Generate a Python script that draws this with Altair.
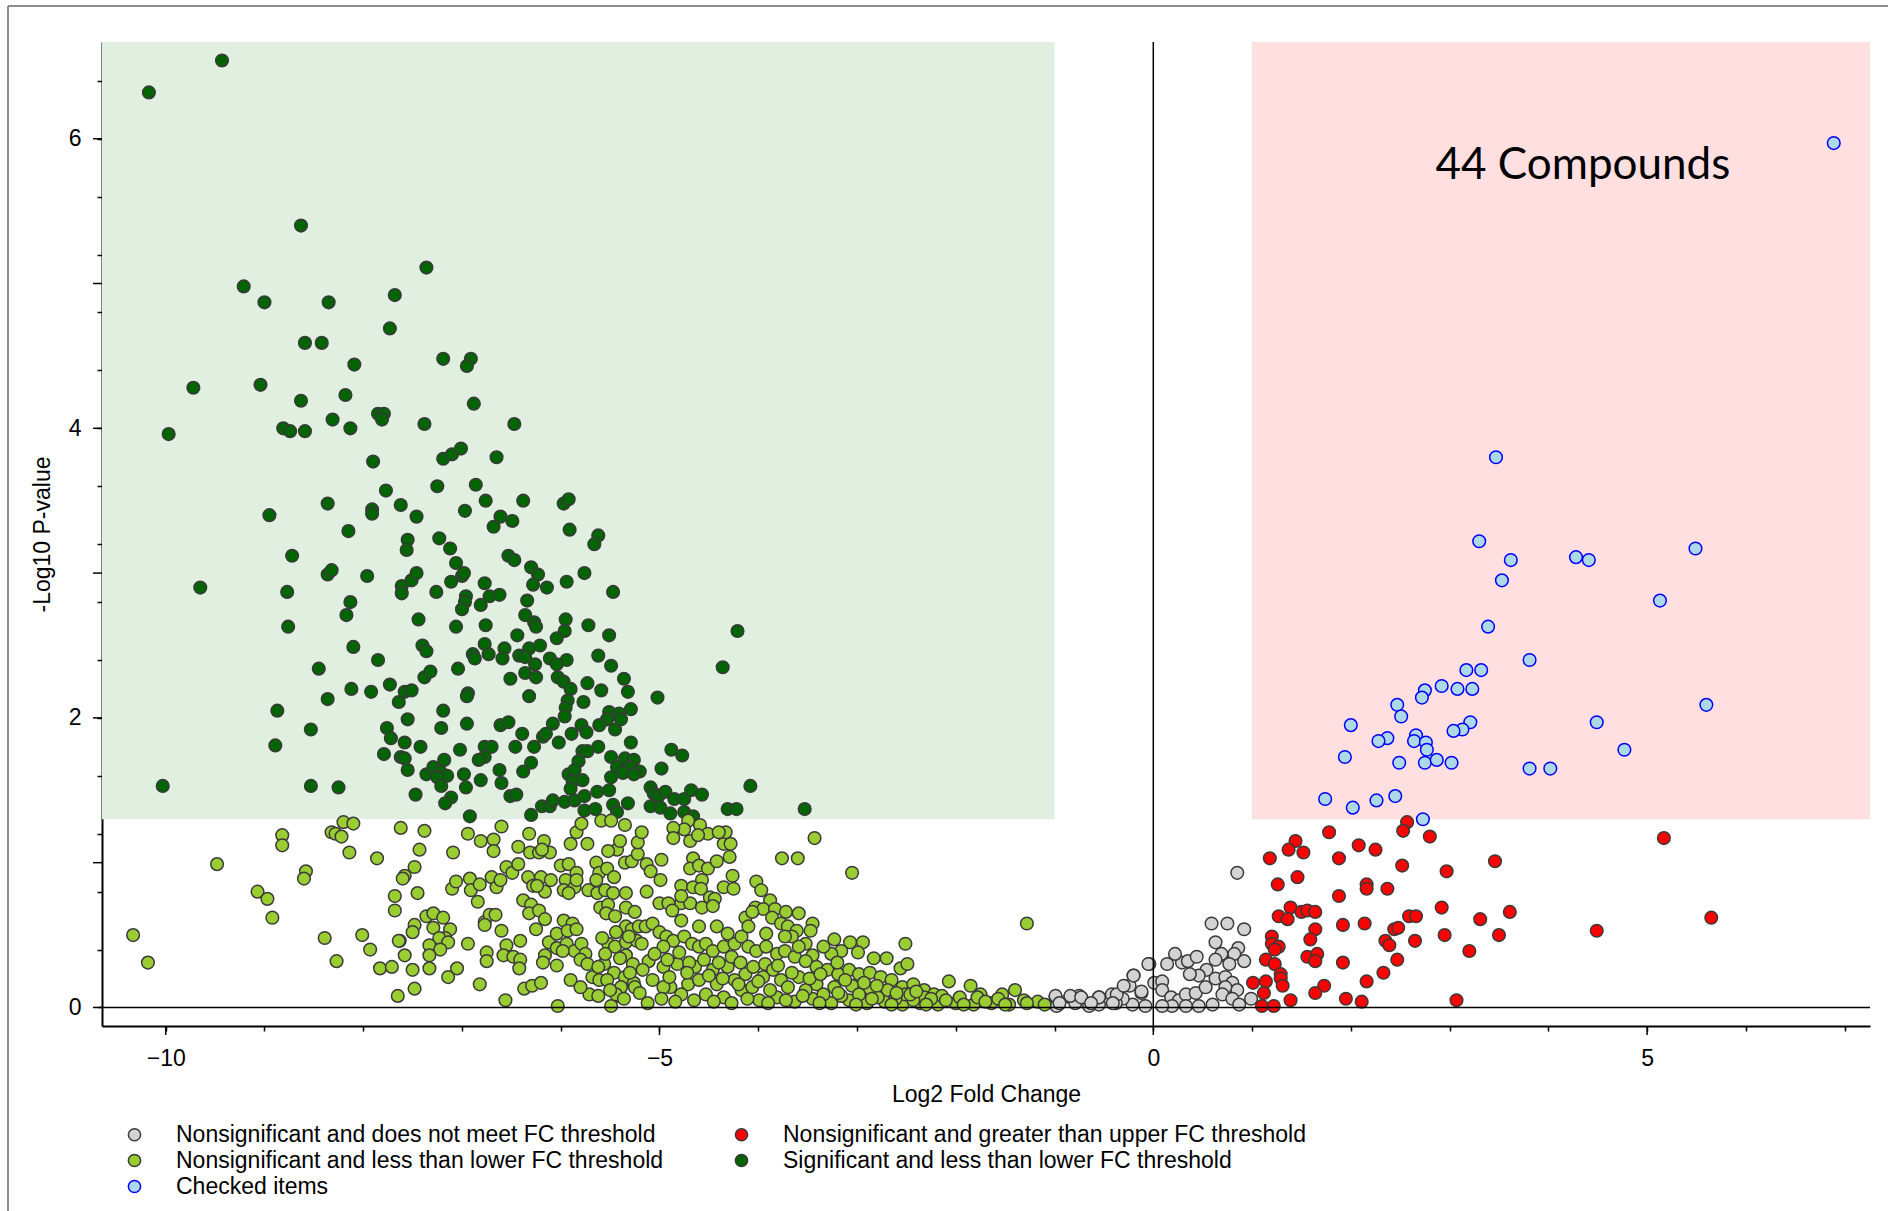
import altair as alt
import pandas as pd

# ---- volcano plot data: (log2 fold change, -log10 p-value) per compound ----

not_meet_fc = [
    (0.85, 0.93), (0.59, 0.58), (0.75, 0.58), (0.92, 0.54), (0.63, 0.45), (0.69, 0.36),
    (0.86, 0.41), (0.82, 0.37), (0.69, 0.37), (0.63, 0.33), (0.77, 0.30), (0.92, 0.32),
    (0.54, 0.26), (0.46, 0.22), (0.37, 0.23), (0.29, 0.31), (0.35, 0.32), (0.44, 0.35),
    (0.22, 0.37), (0.14, 0.30), (-0.04, 0.30), (-0.20, 0.22), (-0.24, 0.15), (-0.12, 0.10),
    (0.01, 0.17), (0.09, 0.18), (0.09, 0.12), (0.18, 0.07), (0.26, 0.05), (0.33, 0.09),
    (0.43, 0.10), (0.53, 0.14), (0.63, 0.20), (0.73, 0.21), (0.80, 0.17), (0.85, 0.12),
    (0.73, 0.14), (0.70, 0.09), (0.80, 0.06), (0.87, 0.02), (0.99, 0.06), (0.60, 0.02),
    (0.46, 0.01), (0.33, 0.01), (0.19, 0.01), (0.09, 0.01), (-0.08, 0.01), (-0.21, 0.02),
    (-0.31, 0.06), (-0.42, 0.09), (-0.38, 0.03), (-0.55, 0.02), (-0.55, 0.07), (-0.65, 0.01),
    (-0.75, 0.08), (-0.84, 0.07), (-0.79, 0.03), (-0.96, 0.02), (-0.99, 0.07), (-0.98, 0.01),
    (-0.99, 0.08), (-0.84, 0.08), (-0.73, 0.07), (-0.55, 0.07), (-0.37, 0.09), (-0.20, 0.22),
    (-0.05, 0.30), (-0.12, 0.11), (-0.30, 0.15), (-0.95, 0.03), (-0.63, 0.03), (-0.41, 0.03),
]

sig_lower = [
    (-10.17, 6.32), (-9.43, 6.54), (-8.63, 5.40), (-7.36, 5.11), (-9.21, 4.98), (-9.00, 4.87),
    (-8.35, 4.87), (-7.68, 4.92), (-7.73, 4.69), (-8.59, 4.59), (-8.42, 4.59), (-8.09, 4.44),
    (-7.19, 4.48), (-6.91, 4.48), (-6.95, 4.43), (-9.72, 4.28), (-9.04, 4.30), (-8.63, 4.19),
    (-8.18, 4.23), (-6.88, 4.17), (-9.97, 3.96), (-8.81, 4.00), (-8.74, 3.98), (-8.59, 3.98),
    (-8.31, 4.06), (-8.13, 4.00), (-7.85, 4.10), (-7.79, 4.10), (-7.81, 4.06), (-7.38, 4.03),
    (-6.47, 4.03), (-7.90, 3.77), (-7.19, 3.79), (-7.10, 3.82), (-7.01, 3.86), (-6.65, 3.80),
    (-7.77, 3.57), (-7.25, 3.60), (-6.86, 3.61), (-9.65, 2.90), (-10.03, 1.53),
    (-8.36, 3.48), (-7.91, 3.44), (-7.91, 3.41), (-7.62, 3.47), (-7.46, 3.39), (-6.97, 3.43),
    (-6.76, 3.50), (-6.38, 3.50), (-5.97, 3.48), (-5.92, 3.51), (-8.95, 3.40), (-8.15, 3.29),
    (-7.55, 3.23), (-7.56, 3.16), (-7.23, 3.24), (-7.12, 3.17), (-6.61, 3.39), (-6.49, 3.36),
    (-6.68, 3.32), (-5.91, 3.30), (-5.62, 3.26), (-5.66, 3.20), (-8.72, 3.12), (-8.36, 2.99),
    (-8.32, 3.02), (-7.96, 2.98), (-7.61, 2.91), (-7.61, 2.86), (-7.51, 2.95), (-7.46, 3.00),
    (-7.26, 2.87), (-7.11, 2.94), (-7.06, 3.07), (-7.00, 2.98), (-6.98, 3.00), (-6.77, 2.93),
    (-6.53, 3.12), (-6.47, 3.09), (-6.30, 3.04), (-6.23, 2.99), (-6.28, 2.92), (-6.14, 2.90),
    (-5.94, 2.94), (-5.76, 3.00), (-5.47, 2.87), (-8.77, 2.87), (-8.13, 2.80), (-8.17, 2.71),
    (-8.76, 2.63), (-7.44, 2.68), (-7.06, 2.63), (-6.96, 2.84), (-6.97, 2.80), (-7.00, 2.75),
    (-6.81, 2.78), (-6.72, 2.84), (-6.62, 2.85), (-6.76, 2.64), (-6.34, 2.81), (-6.36, 2.71),
    (-6.27, 2.66), (-6.25, 2.63), (-5.95, 2.68), (-5.96, 2.60), (-6.04, 2.55), (-5.72, 2.64),
    (-5.51, 2.57), (-4.21, 2.60), (-4.36, 2.35), (-8.10, 2.49), (-7.40, 2.50), (-7.36, 2.46),
    (-7.85, 2.40), (-8.45, 2.34), (-6.77, 2.51), (-6.73, 2.44), (-6.89, 2.44), (-6.87, 2.41),
    (-6.57, 2.48), (-6.59, 2.41), (-6.44, 2.57), (-6.32, 2.48), (-6.21, 2.50), (-6.42, 2.43),
    (-6.36, 2.42), (-6.11, 2.41), (-5.94, 2.40), (-6.04, 2.37), (-6.26, 2.37), (-6.36, 2.31),
    (-6.25, 2.28), (-5.62, 2.43), (-5.49, 2.36), (-5.36, 2.27), (-5.73, 2.24), (-5.59, 2.19),
    (-5.32, 2.18), (-5.02, 2.14), (-6.03, 2.28), (-5.97, 2.25), (-5.90, 2.20), (-8.12, 2.20),
    (-7.92, 2.18), (-7.73, 2.23), (-8.36, 2.13), (-7.58, 2.18), (-7.51, 2.19), (-7.64, 2.11),
    (-7.38, 2.28), (-7.32, 2.32), (-7.04, 2.34), (-6.94, 2.17), (-6.95, 2.15), (-6.51, 2.27),
    (-6.32, 2.15), (-5.77, 2.11), (-5.93, 2.12), (-5.95, 2.07), (-5.96, 2.01), (-5.29, 2.06),
    (-5.51, 2.04), (-5.41, 2.03), (-5.39, 1.99), (-5.53, 1.99), (-8.87, 2.05), (-8.53, 1.92),
    (-8.89, 1.81), (-7.55, 1.99), (-7.76, 1.93), (-7.72, 1.86), (-7.19, 2.05), (-7.21, 1.93),
    (-6.95, 1.96), (-6.61, 1.95), (-6.53, 1.97), (-6.39, 1.89), (-6.08, 1.96), (-6.18, 1.87),
    (-6.15, 1.89), (-5.89, 1.89), (-5.79, 1.95), (-5.74, 1.90), (-5.61, 1.95), (-5.45, 1.92),
    (-7.58, 1.83), (-7.42, 1.80), (-7.79, 1.75), (-7.62, 1.73), (-7.58, 1.72), (-7.02, 1.78),
    (-6.77, 1.80), (-6.70, 1.80), (-6.77, 1.73), (-6.83, 1.71), (-6.46, 1.80), (-6.27, 1.80),
    (-6.02, 1.83), (-5.62, 1.80), (-5.29, 1.83), (-5.78, 1.77), (-5.73, 1.77), (-5.82, 1.70),
    (-5.49, 1.73), (-5.35, 1.72), (-5.43, 1.66), (-5.26, 1.71), (-5.30, 1.66), (-5.20, 1.63),
    (-5.37, 1.62), (-5.26, 1.61), (-4.88, 1.78), (-4.77, 1.74), (-4.98, 1.65), (-4.08, 1.53),
    (-7.55, 1.64), (-7.36, 1.61), (-7.29, 1.66), (-7.22, 1.63), (-7.18, 1.71), (-7.15, 1.60),
    (-7.25, 1.59), (-7.21, 1.53), (-6.98, 1.61), (-6.96, 1.52), (-6.81, 1.57), (-6.62, 1.64),
    (-6.60, 1.55), (-6.30, 1.69), (-6.38, 1.63), (-5.92, 1.61), (-5.86, 1.64), (-5.88, 1.56),
    (-5.78, 1.57), (-5.90, 1.51), (-5.49, 1.59), (-8.53, 1.53), (-8.25, 1.52), (-7.47, 1.47),
    (-7.11, 1.45), (-7.17, 1.41), (-6.51, 1.46), (-6.45, 1.47), (-6.92, 1.32), (-6.30, 1.33),
    (-6.19, 1.39), (-6.11, 1.39), (-6.08, 1.43), (-5.96, 1.42), (-5.86, 1.43), (-5.76, 1.46),
    (-5.76, 1.36), (-5.65, 1.37), (-5.63, 1.49), (-5.51, 1.50), (-5.47, 1.40), (-5.43, 1.35),
    (-5.32, 1.41), (-5.09, 1.52), (-5.06, 1.48), (-5.01, 1.46), (-4.94, 1.49), (-4.85, 1.44),
    (-4.75, 1.44), (-4.68, 1.50), (-4.57, 1.47), (-5.09, 1.39), (-4.99, 1.38), (-4.89, 1.34),
    (-4.75, 1.35), (-4.66, 1.32), (-4.31, 1.37), (-4.22, 1.37), (-3.53, 1.37),
]

nonsig_lower = [
    (-10.33, 0.50), (-10.18, 0.31), (-9.48, 0.99), (-8.82, 1.19), (-8.82, 1.12), (-9.07, 0.80),
    (-8.97, 0.75), (-8.92, 0.62), (-8.58, 0.94), (-8.60, 0.89), (-8.20, 1.28), (-8.10, 1.27),
    (-8.32, 1.21), (-8.28, 1.20), (-8.22, 1.18), (-8.14, 1.07), (-8.39, 0.48), (-8.27, 0.32),
    (-8.01, 0.50), (-7.93, 0.40), (-7.86, 1.03), (-7.83, 0.27), (-7.71, 0.28), (-7.65, 0.08),
    (-7.62, 1.24), (-7.38, 1.22), (-7.43, 1.09), (-7.48, 0.97), (-7.58, 0.91), (-7.60, 0.89),
    (-7.68, 0.77), (-7.68, 0.67), (-7.45, 0.79), (-7.48, 0.57), (-7.50, 0.52), (-7.63, 0.46),
    (-7.64, 0.46), (-7.58, 0.36), (-7.50, 0.26), (-7.48, 0.13), (-7.36, 0.63), (-7.29, 0.65),
    (-7.19, 0.62), (-7.29, 0.55), (-7.12, 0.54), (-7.17, 0.48), (-7.23, 0.48), (-7.14, 0.45),
    (-7.33, 0.43), (-7.22, 0.40), (-7.33, 0.36), (-7.33, 0.27), (-7.14, 0.21), (-7.05, 0.27),
    (-7.09, 1.07), (-6.94, 1.20), (-6.81, 1.15), (-6.68, 1.16), (-6.68, 1.08), (-6.60, 1.25),
    (-6.43, 1.11), (-6.32, 1.20), (-6.17, 1.15), (-7.10, 0.82), (-7.06, 0.87), (-6.92, 0.89),
    (-6.91, 0.81), (-6.82, 0.85), (-6.84, 0.73), (-6.70, 0.90), (-6.65, 0.83), (-6.61, 0.88),
    (-6.55, 0.97), (-6.49, 0.93), (-6.43, 0.99), (-6.77, 0.59), (-6.72, 0.64), (-6.66, 0.64),
    (-6.77, 0.57), (-6.94, 0.44), (-6.75, 0.38), (-6.75, 0.32), (-6.60, 0.53), (-6.55, 0.43),
    (-6.58, 0.36), (-6.48, 0.35), (-6.41, 0.33), (-6.41, 0.46), (-6.42, 0.27), (-6.82, 0.16),
    (-6.56, 0.05), (-6.37, 0.13), (-6.29, 0.15), (-6.20, 0.17), (-6.03, 0.01), (-6.33, 0.90),
    (-6.28, 0.84), (-6.20, 0.90), (-6.16, 0.80), (-6.10, 0.88), (-6.24, 0.84), (-6.38, 0.74),
    (-6.30, 0.71), (-6.32, 0.65), (-6.22, 0.67), (-6.16, 0.61), (-6.25, 0.54), (-6.31, 1.07),
    (-6.22, 1.07), (-6.11, 1.07), (-6.19, 1.09), (-6.12, 0.45), (-6.04, 0.41), (-6.16, 0.36),
    (-6.18, 0.31), (-6.04, 0.51), (-6.00, 0.98), (-5.92, 0.99), (-5.84, 0.93), (-5.95, 0.88),
    (-5.86, 0.83), (-5.97, 0.81), (-5.92, 0.79), (-5.84, 0.88), (-5.84, 1.21), (-5.90, 1.13),
    (-5.79, 1.27), (-5.73, 1.13), (-5.97, 0.60), (-5.88, 0.58), (-5.93, 0.53), (-5.84, 0.54),
    (-5.94, 0.44), (-5.86, 0.39), (-5.79, 0.44), (-5.75, 0.37), (-5.80, 0.33), (-5.73, 0.30),
    (-5.71, 0.09), (-5.62, 0.08), (-5.49, 0.01), (-5.41, 0.08), (-5.68, 0.21), (-5.61, 0.19),
    (-5.56, 0.30), (-5.46, 0.24), (-5.35, 0.21), (-5.26, 0.17), (-5.64, 1.00), (-5.61, 0.93),
    (-5.64, 0.88), (-5.72, 0.81), (-5.63, 0.79), (-5.55, 0.81), (-5.47, 0.79), (-5.34, 0.79),
    (-5.60, 0.69), (-5.52, 0.71), (-5.54, 0.65), (-5.45, 0.63), (-5.34, 0.69), (-5.25, 0.66),
    (-5.52, 0.44), (-5.45, 0.42), (-5.55, 0.37), (-5.59, 1.29), (-5.49, 1.29), (-5.43, 1.09),
    (-5.35, 1.26), (-5.40, 1.15), (-5.52, 1.08), (-5.53, 0.96), (-5.46, 0.90), (-5.35, 1.00),
    (-5.28, 1.01), (-5.22, 1.06), (-5.22, 1.14), (-5.34, 0.56), (-5.28, 0.54), (-5.21, 0.56),
    (-5.34, 0.45), (-5.23, 0.46), (-5.34, 0.36), (-5.27, 0.30), (-6.04, 0.29), (-5.98, 0.39),
    (-5.53, 0.19), (-5.39, 0.14), (-5.44, 0.09), (-5.30, 0.24), (-5.25, 0.14), (-5.90, 0.19),
    (-5.62, 0.28),
    (-4.71, 1.29), (-4.75, 1.23), (-4.59, 1.26), (-4.51, 1.20), (-4.86, 1.24), (-4.86, 1.17),
    (-5.18, 1.21), (-5.13, 0.99), (-4.98, 1.02), (-5.09, 0.94), (-4.99, 0.88), (-5.13, 0.80),
    (-5.00, 0.72), (-4.91, 0.72), (-4.78, 0.72), (-4.69, 0.72), (-4.87, 0.67), (-4.78, 0.84),
    (-4.78, 0.77), (-4.66, 1.03), (-4.69, 0.96), (-4.60, 0.98), (-4.51, 0.96), (-4.42, 1.01),
    (-4.29, 1.04), (-4.35, 1.13), (-4.28, 1.13), (-4.33, 1.21), (-4.40, 1.21), (-4.69, 1.15),
    (-4.61, 1.19), (-4.26, 0.91), (-4.35, 0.83), (-4.25, 0.82), (-4.57, 0.88), (-4.66, 0.83),
    (-4.58, 0.82), (-4.49, 0.76), (-4.44, 0.75), (-4.57, 0.69), (-4.46, 0.70), (-4.02, 0.87),
    (-3.97, 0.81), (-3.88, 0.74), (-4.03, 0.69), (-3.95, 0.68), (-3.83, 0.68), (-4.13, 0.62),
    (-4.06, 0.66), (-3.86, 0.62), (-3.72, 0.66), (-3.59, 0.65), (-3.77, 0.58), (-3.70, 0.56),
    (-3.61, 0.53), (-3.45, 0.58), (-3.47, 0.53), (-3.76, 1.03), (-3.60, 1.03), (-3.43, 1.17),
    (-3.05, 0.93), (-1.28, 0.58), (-3.23, 0.47), (-3.07, 0.45), (-2.94, 0.45), (-2.99, 0.38),
    (-3.16, 0.39), (-3.26, 0.37), (-3.45, 0.36), (-2.51, 0.44), (-2.83, 0.34), (-2.70, 0.34),
    (-2.56, 0.27), (-2.49, 0.30),
    (-5.14, 0.56), (-5.07, 0.58), (-5.00, 0.52), (-4.93, 0.49), (-4.86, 0.46), (-4.75, 0.49),
    (-4.67, 0.44), (-4.60, 0.42), (-4.53, 0.44), (-4.46, 0.39), (-4.35, 0.42), (-4.24, 0.44),
    (-4.17, 0.49), (-4.10, 0.42), (-4.02, 0.39), (-3.92, 0.42), (-3.81, 0.37), (-3.73, 0.39),
    (-3.63, 0.35), (-3.52, 0.32), (-3.41, 0.28), (-3.30, 0.26), (-3.19, 0.23), (-3.08, 0.26),
    (-2.98, 0.23), (-2.87, 0.24), (-2.76, 0.21), (-2.65, 0.19), (-2.54, 0.14), (-2.43, 0.16),
    (-2.32, 0.12), (-2.22, 0.09), (-2.07, 0.18), (-1.85, 0.15), (-1.75, 0.09), (-1.53, 0.09),
    (-1.40, 0.12), (-1.31, 0.05), (-1.17, 0.04),
    (-5.07, 0.19), (-4.89, 0.14), (-4.71, 0.16), (-4.53, 0.09), (-4.35, 0.07), (-4.17, 0.12),
    (-3.99, 0.05), (-3.81, 0.07), (-3.63, 0.04), (-3.45, 0.06), (-3.26, 0.03), (-3.08, 0.05),
    (-2.90, 0.03), (-2.72, 0.04), (-2.54, 0.02), (-2.36, 0.03), (-2.18, 0.02), (-2.00, 0.03),
    (-1.82, 0.02), (-1.64, 0.03), (-1.46, 0.02), (-1.28, 0.03), (-1.10, 0.02),
    (-5.11, 0.32), (-4.96, 0.28), (-4.82, 0.30), (-4.64, 0.28), (-4.46, 0.26), (-4.31, 0.28),
    (-4.13, 0.23), (-3.95, 0.21), (-3.77, 0.19), (-3.59, 0.21), (-3.41, 0.16), (-3.23, 0.14),
    (-3.05, 0.15), (-2.87, 0.13), (-2.69, 0.12), (-2.51, 0.09), (-2.32, 0.07), (-2.14, 0.08),
    (-1.96, 0.07), (-1.78, 0.07), (-1.57, 0.06), (-4.96, 0.14), (-4.78, 0.09), (-4.60, 0.19),
    (-4.42, 0.16), (-4.24, 0.19), (-4.06, 0.14), (-3.88, 0.12), (-3.70, 0.14), (-3.52, 0.12),
    (-3.34, 0.09), (-3.16, 0.08), (-2.98, 0.09), (-2.79, 0.07), (-2.61, 0.06), (-2.43, 0.05),
    (-2.25, 0.06),
    (-4.96, 0.42), (-4.78, 0.60), (-4.42, 0.56), (-4.60, 0.56), (-4.31, 0.51), (-4.10, 0.56),
    (-3.92, 0.51), (-3.66, 0.49), (-3.52, 0.44), (-3.34, 0.42), (-3.59, 0.42), (-3.73, 0.49),
    (-5.58, 0.48), (-5.44, 0.52), (-5.31, 0.49), (-5.18, 0.44), (-5.05, 0.37), (-4.92, 0.33),
    (-4.80, 0.38), (-4.70, 0.31), (-4.55, 0.33), (-4.40, 0.31), (-4.27, 0.35), (-4.18, 0.31),
    (-4.05, 0.28), (-3.93, 0.30), (-3.85, 0.26), (-5.50, 0.12), (-5.36, 0.06), (-5.20, 0.10),
    (-5.12, 0.03), (-4.98, 0.06), (-4.84, 0.04), (-4.65, 0.05), (-4.45, 0.04), (-4.27, 0.03),
    (-4.11, 0.06), (-3.90, 0.03), (-3.72, 0.05), (-3.55, 0.08), (-3.38, 0.03), (-3.19, 0.10),
    (-3.01, 0.02), (-2.85, 0.06), (-2.65, 0.02), (-2.46, 0.09), (-2.30, 0.02), (-2.10, 0.05),
    (-1.92, 0.02), (-1.70, 0.04), (-1.50, 0.02), (-5.40, 0.34), (-5.17, 0.26), (-4.90, 0.21),
    (-4.72, 0.24), (-4.50, 0.22), (-4.36, 0.20), (-4.20, 0.16), (-4.00, 0.18), (-3.80, 0.29),
    (-3.66, 0.24), (-3.48, 0.20), (-3.37, 0.23), (-3.20, 0.31), (-3.12, 0.19), (-2.93, 0.17),
    (-2.80, 0.15), (-2.60, 0.10), (-2.40, 0.11), (-5.80, 0.14),
]

nonsig_upper = [
    (1.78, 1.21), (2.57, 1.28), (2.53, 1.22), (2.80, 1.18), (1.44, 1.15), (1.37, 1.09),
    (1.52, 1.07), (1.18, 1.03), (1.88, 1.03), (2.08, 1.12), (2.25, 1.09), (2.52, 0.98),
    (2.97, 0.94), (3.46, 1.01), (1.26, 0.85), (1.46, 0.90), (2.16, 0.85), (2.16, 0.82),
    (2.37, 0.82), (1.88, 0.77), (1.39, 0.69), (1.27, 0.63), (1.36, 0.61), (1.50, 0.66),
    (1.56, 0.67), (1.64, 0.66), (1.92, 0.57), (2.14, 0.58), (2.59, 0.63), (2.66, 0.63),
    (2.92, 0.69), (3.31, 0.61), (2.95, 0.50), (3.50, 0.50), (1.64, 0.54), (1.59, 0.47),
    (1.20, 0.49), (1.20, 0.44), (1.27, 0.42), (1.23, 0.40), (1.14, 0.33), (1.23, 0.30),
    (1.29, 0.23), (1.29, 0.20), (1.31, 0.15), (1.14, 0.18), (1.12, 0.10), (1.01, 0.17),
    (1.10, 0.01), (1.22, 0.01), (1.39, 0.05), (1.56, 0.35), (1.66, 0.37), (1.64, 0.32),
    (1.73, 0.15), (1.64, 0.10), (1.92, 0.31), (1.95, 0.06), (2.11, 0.04), (2.16, 0.18),
    (2.33, 0.24), (2.35, 0.46), (2.39, 0.43), (2.44, 0.54), (2.48, 0.55), (2.47, 0.33),
    (2.65, 0.46), (3.20, 0.39), (3.07, 0.05), (3.61, 0.66), (4.49, 0.53), (5.17, 1.17),
    (5.65, 0.62),
]

checked = [
    (3.47, 3.80), (3.30, 3.22), (3.62, 3.09), (3.53, 2.95), (4.28, 3.11), (4.41, 3.09),
    (5.49, 3.17), (5.13, 2.81), (3.39, 2.63), (3.81, 2.40), (3.17, 2.33), (3.32, 2.33),
    (2.92, 2.22), (3.08, 2.20), (3.23, 2.20), (2.75, 2.19), (2.72, 2.14), (2.47, 2.09),
    (2.51, 2.01), (2.00, 1.95), (5.60, 2.09), (4.49, 1.97), (3.21, 1.97), (3.13, 1.92),
    (3.04, 1.91), (2.66, 1.88), (2.64, 1.84), (2.76, 1.83), (2.77, 1.78), (2.37, 1.86),
    (2.28, 1.84), (1.94, 1.73), (2.49, 1.69), (2.75, 1.69), (2.87, 1.71), (3.02, 1.69),
    (3.81, 1.65), (4.02, 1.65), (4.77, 1.78), (1.74, 1.44), (2.02, 1.38), (2.26, 1.43),
    (2.45, 1.46), (2.73, 1.30), (6.89, 5.97),
]

groups = [
    ("Nonsignificant and does not meet FC threshold", not_meet_fc),
    ("Significant and less than lower FC threshold", sig_lower),
    ("Nonsignificant and less than lower FC threshold", nonsig_lower),
    ("Nonsignificant and greater than upper FC threshold", nonsig_upper),
    ("Checked items", checked),
]

# legend entries, listed row by row across two columns
legend_order = [
    "Nonsignificant and does not meet FC threshold",
    "Nonsignificant and greater than upper FC threshold",
    "Nonsignificant and less than lower FC threshold",
    "Significant and less than lower FC threshold",
    "Checked items",
]
fill_colors = ["#D3D3D3", "#FF0000", "#9ACD32", "#006400", "#ADD8E6"]
stroke_colors = ["#3A3A3A", "#3A3A3A", "#3A3A3A", "#3A3A3A", "#0000FF"]

# thresholds
lower_fc = -1.0
upper_fc = 1.0
p_cut = 1.3

x_domain = [-10.645, 7.257]
y_domain = [-0.128, 6.668]
x_tick_values = [-10, -9, -8, -7, -6, -5, -4, -3, -2, -1, 0, 1, 2, 3, 4, 5, 6, 7]
x_major_ticks = [-10, -5, 0, 5]
y_tick_values = [0, 0.2, 0.4, 0.6, 0.8, 1, 1.2, 1.4, 1.6, 1.8, 2, 2.2, 2.4, 2.6, 2.8, 3,
                 3.2, 3.4, 3.6, 3.8, 4, 4.2, 4.4, 4.6, 4.8, 5, 5.2, 5.4, 5.6, 5.8, 6, 6.2,
                 6.4, 6.6]
y_major_ticks = [0, 1, 2, 3, 4, 5, 6]

rows = []
for name, pts in groups:
    for fc, p in pts:
        rows.append({"fc": fc, "p": p, "group": name})
df = pd.DataFrame(rows)

W, H = 1768, 984
FONT = "Liberation Sans"
FS = 23

xs = alt.Scale(domain=x_domain, nice=False, zero=False)
ys = alt.Scale(domain=y_domain, nice=False, zero=False)

x_axis = alt.Axis(
    values=x_tick_values,
    labelExpr="datum.value % 5 == 0 ? format(datum.value, 'd') : ''",
    grid=False, domainColor="black", domainWidth=2, tickColor="black", tickWidth=1.5,
    tickSize=5, labelFont=FONT, labelFontSize=FS, labelColor="black", labelPadding=16,
    title="Log2 Fold Change", titleFont=FONT, titleFontSize=FS, titleFontWeight="normal",
    titleColor="black", titlePadding=13, labelOverlap=False,
)
y_axis = alt.Axis(
    values=y_tick_values,
    labelExpr="abs(datum.value - round(datum.value)) < 0.001 ? format(datum.value, 'd') : ''",
    grid=False, domainColor="black", domainWidth=2, tickColor="black", tickWidth=1.5,
    tickSize=5, labelFont=FONT, labelFontSize=FS, labelColor="black", labelPadding=16,
    title="-Log10 P-value", titleFont=FONT, titleFontSize=FS, titleFontWeight="normal",
    titleColor="black", titlePadding=14, labelOverlap=False,
)

# shaded significance regions
green_zone = alt.Chart().mark_rect(color="#E1EFE1").encode(
    x=alt.X(datum=lower_fc, scale=xs, axis=x_axis), x2=alt.value(0),
    y=alt.Y(datum=p_cut, scale=ys, axis=y_axis), y2=alt.value(0),
)
red_zone = alt.Chart().mark_rect(color="#FFDFE0").encode(
    x=alt.X(datum=upper_fc, scale=xs), x2=alt.value(W),
    y=alt.Y(datum=p_cut, scale=ys), y2=alt.value(0),
)

points = alt.Chart(df).mark_point(
    shape="circle", filled=True, opacity=1, strokeWidth=1.5, size=160
).encode(
    x=alt.X("fc:Q", scale=xs),
    y=alt.Y("p:Q", scale=ys),
    fill=alt.Fill("group:N", scale=alt.Scale(domain=legend_order, range=fill_colors),
                  legend=alt.Legend(title=None)),
    stroke=alt.Stroke("group:N", scale=alt.Scale(domain=legend_order, range=stroke_colors),
                      legend=alt.Legend(title=None)),
    order=alt.Order("idx:Q"),
).transform_window(idx="row_number()")

zero_v = alt.Chart().mark_rule(color="black", strokeWidth=1.5).encode(
    x=alt.X(datum=0, scale=xs), y=alt.value(0), y2=alt.value(H)
)
zero_h = alt.Chart().mark_rule(color="black", strokeWidth=1.5).encode(
    y=alt.Y(datum=0, scale=ys), x=alt.value(0), x2=alt.value(W)
)

# longer major ticks
x_major = alt.Chart(pd.DataFrame({"t": x_major_ticks})).mark_rule(
    color="black", strokeWidth=1.5
).encode(x=alt.X("t:Q", scale=xs), y=alt.value(H), y2=alt.value(H + 9))
y_major = alt.Chart(pd.DataFrame({"t": y_major_ticks})).mark_rule(
    color="black", strokeWidth=1.5
).encode(y=alt.Y("t:Q", scale=ys), x=alt.value(-9), x2=alt.value(0))

note = alt.Chart().mark_text(
    text="44 Compounds", font="Lato", fontSize=44, color="black",
    align="center", baseline="middle"
).encode(x=alt.X(datum=4.35, scale=xs), y=alt.Y(datum=5.81, scale=ys))

# outer frame (left and top edges)
frame_left = alt.Chart().mark_rule(color="#8C8C8C", strokeWidth=2).encode(
    x=alt.value(-94), y=alt.value(-36), y2=alt.value(1211)
)
frame_top = alt.Chart().mark_rule(color="#8C8C8C", strokeWidth=2).encode(
    y=alt.value(-36), x=alt.value(-94), x2=alt.value(1888)
)

chart = alt.layer(
    green_zone, red_zone, points, zero_v, zero_h, x_major, y_major, note,
    frame_left, frame_top,
).properties(
    width=W, height=H,
    autosize=alt.AutoSizeParams(type="none"),
    padding={"left": 102, "top": 42, "right": 18, "bottom": 185},
).configure_view(
    stroke=None
).configure_legend(
    orient="none", legendX=21, legendY=1081, columns=2, direction="horizontal",
    labelFont=FONT, labelFontSize=FS, labelColor="black", labelLimit=800,
    symbolType="circle", symbolSize=150, symbolStrokeWidth=1.5, symbolOpacity=1,
    labelOffset=30, rowPadding=2, columnPadding=66, padding=0, titlePadding=0,
)

chart.save("out.html", embed_options={"renderer": "svg", "actions": False})
